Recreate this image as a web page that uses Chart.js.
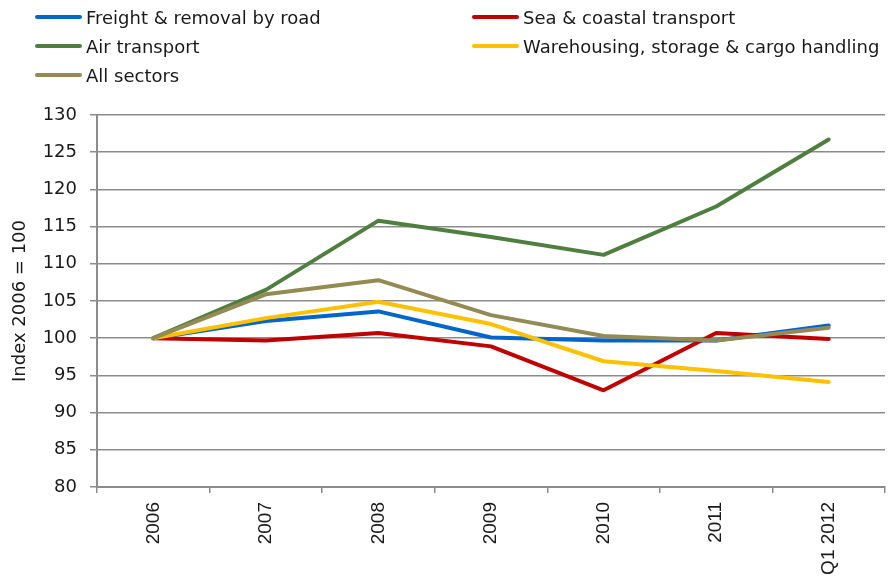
<!DOCTYPE html>
<html>
<head>
<meta charset="utf-8">
<script src="https://cdn.jsdelivr.net/npm/chart.js@4/dist/chart.umd.min.js"></script>
<style>
  html, body { margin: 0; padding: 0; background: #fff; }
  #wrap { position: relative; width: 888px; height: 584px; overflow: hidden; }
  #legend { position: absolute; left: 0; top: 0; width: 888px; height: 100px; font-family: "DejaVu Sans", sans-serif; font-size: 18px; color: #1a1a1a; }
  .item { position: absolute; white-space: nowrap; display: flex; align-items: center; height: 24px; }
  .swatch { width: 47px; height: 4px; border-radius: 2px; margin-right: 4px; }
</style>
</head>
<body>
<div id="wrap">
  <canvas id="chart" width="888" height="584"></canvas>
  <div id="legend"></div>
</div>
<script>
const categories = ["2006", "2007", "2008", "2009", "2010", "2011", "Q1 2012"];

const freight = [100, 102.3, 103.6, 100.1, 99.7, 99.7, 101.7];
const sea = [100, 99.7, 100.7, 98.9, 93.0, 100.7, 99.9];
const air = [100, 106.5, 115.8, 113.6, 111.2, 117.7, 126.7];
const warehousing = [100, 102.7, 104.9, 101.9, 96.9, 95.6, 94.1];
const allSectors = [100, 105.9, 107.8, 103.1, 100.3, 99.7, 101.4];

const yTicks = [80, 85, 90, 95, 100, 105, 110, 115, 120, 125, 130];

const series = [
  { label: "Freight & removal by road", data: freight, color: "#0066CC", order: 5 },
  { label: "Sea & coastal transport", data: sea, color: "#C00000", order: 4 },
  { label: "Air transport", data: air, color: "#4F7F3F", order: 3 },
  { label: "Warehousing, storage & cargo handling", data: warehousing, color: "#FFC000", order: 2 },
  { label: "All sectors", data: allSectors, color: "#948A54", order: 1 },
];

// legend in two columns, filled row by row
const legend = document.getElementById("legend");
series.forEach((s, i) => {
  const col = i % 2, row = Math.floor(i / 2);
  const el = document.createElement("div");
  el.className = "item";
  el.style.left = (col === 0 ? 35 : 472) + "px";
  el.style.top = (5 + row * 29) + "px";
  el.innerHTML = `<span class="swatch" style="background:${s.color}"></span><span>${s.label}</span>`;
  legend.appendChild(el);
});

const gridColor = "#8c8c8c";

new Chart(document.getElementById("chart"), {
  type: "line",
  data: {
    labels: categories,
    datasets: series.map((s) => ({
      label: s.label,
      data: s.data,
      borderColor: s.color,
      backgroundColor: s.color,
      borderWidth: 4,
      pointRadius: 0,
      tension: 0,
      borderCapStyle: "round",
      borderJoinStyle: "round",
      order: s.order,
    })),
  },
  options: {
    responsive: false,
    animation: false,
    layout: { padding: { top: 115, right: 3, left: 0, bottom: 0 } },
    plugins: {
      legend: { display: false },
      tooltip: { enabled: false },
    },
    scales: {
      x: {
        offset: true,
        afterFit: (scale) => { scale.height = 97; },
        grid: {
          offset: true,
          drawOnChartArea: false,
          drawTicks: true,
          tickLength: 6,
          color: gridColor,
          lineWidth: 1.5,
        },
        border: { color: gridColor, width: 2 },
        ticks: {
          minRotation: 90,
          maxRotation: 90,
          padding: 9,
          color: "#1a1a1a",
          font: { family: "Liberation Sans", size: 19 },
        },
      },
      y: {
        min: 80,
        max: 130,
        afterFit: (scale) => { scale.width = 97; },
        afterBuildTicks: (scale) => {
          scale.ticks = yTicks.map((v) => ({ value: v }));
        },
        grid: {
          color: gridColor,
          lineWidth: 1.5,
          tickLength: 7,
        },
        border: { color: gridColor, width: 2 },
        ticks: {
          padding: 13,
          color: "#1a1a1a",
          font: { family: "DejaVu Sans", size: 18 },
        },
        title: {
          display: true,
          text: "Index 2006 = 100",
          color: "#1a1a1a",
          font: { family: "DejaVu Sans", size: 18 },
          padding: { top: 10, bottom: 0 },
        },
      },
    },
  },
});
</script>
</body>
</html>
